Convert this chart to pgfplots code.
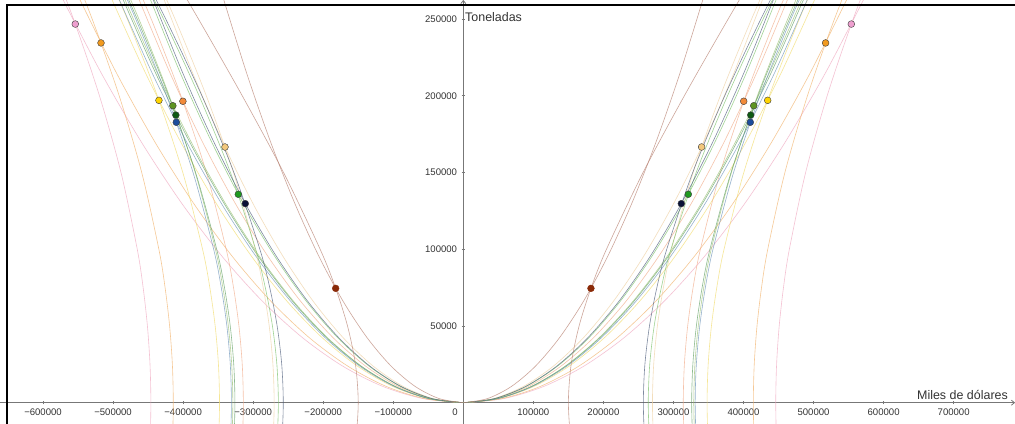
\documentclass[border=0pt]{standalone}
\usepackage{pgfplots}
\pgfplotsset{compat=1.18}
\usepackage{pgfplotstable}
\usepackage{fontspec}
\setmainfont{Liberation Sans}
\usetikzlibrary{arrows.meta}

\definecolor{axisgray}{HTML}{777777}
\definecolor{labelgray}{HTML}{333333}
\definecolor{edge}{HTML}{3A3A3A}
\definecolor{c1}{HTML}{F0A8C0}\definecolor{f1}{HTML}{EE9FCF}
\definecolor{c2}{HTML}{F2B26A}\definecolor{f2}{HTML}{F29A1E}
\definecolor{c3}{HTML}{F2DC6A}\definecolor{f3}{HTML}{FFD400}
\definecolor{c4}{HTML}{F2AA88}\definecolor{f4}{HTML}{F28A3A}
\definecolor{c5}{HTML}{98C070}\definecolor{f5}{HTML}{5E9422}
\definecolor{c6}{HTML}{5E9E62}\definecolor{f6}{HTML}{0E5A12}
\definecolor{c7}{HTML}{6A92B8}\definecolor{f7}{HTML}{1C4E9C}
\definecolor{c8}{HTML}{EED0A0}\definecolor{f8}{HTML}{F3C87C}
\definecolor{c9}{HTML}{78C068}\definecolor{f9}{HTML}{1F9A20}
\definecolor{c10}{HTML}{4A5A78}\definecolor{f10}{HTML}{0A1236}
\definecolor{c11}{HTML}{B88070}\definecolor{f11}{HTML}{8A2A08}

% points (right half; the left half is their mirror image)
\pgfplotstableread{
x y c
553900 246700 p1
517200 234400 p2
434500 197000 p3
400300 196400 p4
414600 193500 p5
410300 187400 p6
409700 182700 p7
340200 166600 p8
321200 135800 p9
311200 129700 p10
182200 74500 p11
}\pts

% parabolas through the origin and each point
\pgfplotstableread{
y a1 a2 a3 a4 a5 a6 a7 a8 a9 a10 a11
0 0 0 0 0 0 0 0 0 0 0 0
2650 57410 54990 50390 46500 48520 48790 49340 42910 44870 44480 34360
10600 114820 109980 100780 93000 97040 97580 98680 85820 89740 88960 68720
23850 172230 164970 151170 139500 145560 146370 148020 128730 134610 133440 103080
42400 229640 219960 201560 186000 194080 195160 197360 171640 179480 177920 137440
66250 287050 274950 251950 232500 242600 243950 246700 214550 224350 222400 171800
95400 344460 329940 302340 279000 291120 292740 296040 257460 269220 266880 206160
129850 401870 384930 352730 325500 339640 341530 345380 300370 314090 311360 240520
169600 459280 439920 403120 372000 388160 390320 394720 343280 358960 355840 274880
214650 516690 494910 453510 418500 436680 439110 444060 386190 403830 400320 309240
265000 574100 549900 503900 465000 485200 487900 493400 429100 448700 444800 343600
}\origin

% hyperbola-like curves crossing the x axis and passing through each point
\pgfplotstableread{
y s1 s2 s3 s4 s5 s6 s7 s8 s9 s10 s11
-50000 450942 419248 354209 320299 335397 332708 337531 277053 272459 265755 165282
-25000 447240 415318 349563 315586 330611 327690 332645 271780 266140 259217 153963
0 446000 414000 348000 314000 329000 326000 331000 270000 264000 257000 150000
25000 447240 415318 349563 315586 330611 327690 332645 271780 266140 259217 153963
50000 450942 419248 354209 320299 335397 332708 337531 277053 272459 265755 165282
75000 457042 425717 361821 328002 343225 340907 345521 285624 282676 276309 182595
100000 465450 434612 372216 338491 353894 352066 356406 297209 296389 290441 204383
150000 488673 459077 400432 366816 382742 382156 385817 328062 332468 327476 256638
200000 519447 491286 436884 403139 419812 420681 423576 366923 377225 373200 315579
250000 556519 529827 479697 445510 463133 465553 467666 411530 427946 424817 378092
300000 598719 573426 527325 492369 511119 515116 516466 460215 482754 480431 442666
}\side

\pgfplotsset{
  crv/.style={smooth, line width=0.6bp, opacity=0.7},
  ptstyle/.style={scatter, only marks, mark size=3.4bp,
    scatter src=explicit symbolic,
    scatter/classes={
      p1={mark=*,fill=f1,draw=edge},
      p2={mark=*,fill=f2,draw=edge},
      p3={mark=*,fill=f3,draw=edge},
      p4={mark=*,fill=f4,draw=edge},
      p5={mark=*,fill=f5,draw=edge},
      p6={mark=*,fill=f6,draw=edge},
      p7={mark=*,fill=f7,draw=edge},
      p8={mark=*,fill=f8,draw=edge},
      p9={mark=*,fill=f9,draw=edge},
      p10={mark=*,fill=f10,draw=edge},
      p11={mark=*,fill=f11,draw=f11}}},
}

\begin{document}
\begin{tikzpicture}
\useasboundingbox (0,0) rectangle (1015bp,424bp);
\fill[white] (0,0) rectangle (1015bp,424bp);
% right half with axes
\begin{axis}[
  at={(0,0)}, anchor=south west,
  width=1015bp, height=424bp, scale only axis,
  xmin=-661400, xmax=787600, ymin=-13880, ymax=262380,
  axis lines=middle,
  axis line style={draw=axisgray, line width=0.8bp, -{Straight Barb[length=3bp,width=5bp]}},
  xtick={-600000,-500000,-400000,-300000,-200000,-100000,100000,200000,300000,400000,500000,600000,700000},
  xticklabels={−600000,−500000,−400000,−300000,−200000,−100000,100000,200000,300000,400000,500000,600000,700000},
  ytick={50000,100000,150000,200000,250000},
  yticklabels={50000,100000,150000,200000,250000},
  tick align=center, major tick length=3.5bp,
  tick style={draw=axisgray, line width=0.6bp},
  xticklabel style={font=\fontsize{9.6}{11}\selectfont, text=labelgray, anchor=north, yshift=-1bp},
  yticklabel style={font=\fontsize{9.6}{11}\selectfont, text=labelgray, anchor=east, xshift=-1bp},
  scaled ticks=false,
]
\pgfplotsinvokeforeach{1,...,11}{
  \addplot[crv, draw=c#1] table[x=a#1, y=y]{\origin};
  \addplot[crv, draw=c#1] table[x=s#1, y=y]{\side};
}
\addplot[ptstyle] table[x=x, y=y, meta=c]{\pts};
\node[anchor=base east, inner sep=0, font=\fontsize{12.5}{14}\selectfont, text=labelgray] at (axis cs:777600,2200) {Miles de dólares};
\node[anchor=west, inner sep=0, font=\fontsize{12.5}{14}\selectfont, text=labelgray] at (axis cs:2400,251300) {Toneladas};
\node[anchor=center, inner sep=0, font=\fontsize{9.6}{11}\selectfont, text=labelgray] at (axis cs:-12000,-6300) {0};
\end{axis}
% left half: the same values, mirrored
\begin{axis}[
  at={(0,0)}, anchor=south west,
  width=1015bp, height=424bp, scale only axis,
  x dir=reverse,
  xmin=-787600, xmax=661400, ymin=-13880, ymax=262380,
  hide axis,
]
\pgfplotsinvokeforeach{1,...,11}{
  \addplot[crv, draw=c#1] table[x=a#1, y=y]{\origin};
  \addplot[crv, draw=c#1] table[x=s#1, y=y]{\side};
}
\addplot[ptstyle] table[x=x, y=y, meta=c]{\pts};
\end{axis}
\draw[black, line width=2bp] (7bp,0) -- (7bp,418.5bp) -- (1015bp,418.5bp);
\end{tikzpicture}
\end{document}
